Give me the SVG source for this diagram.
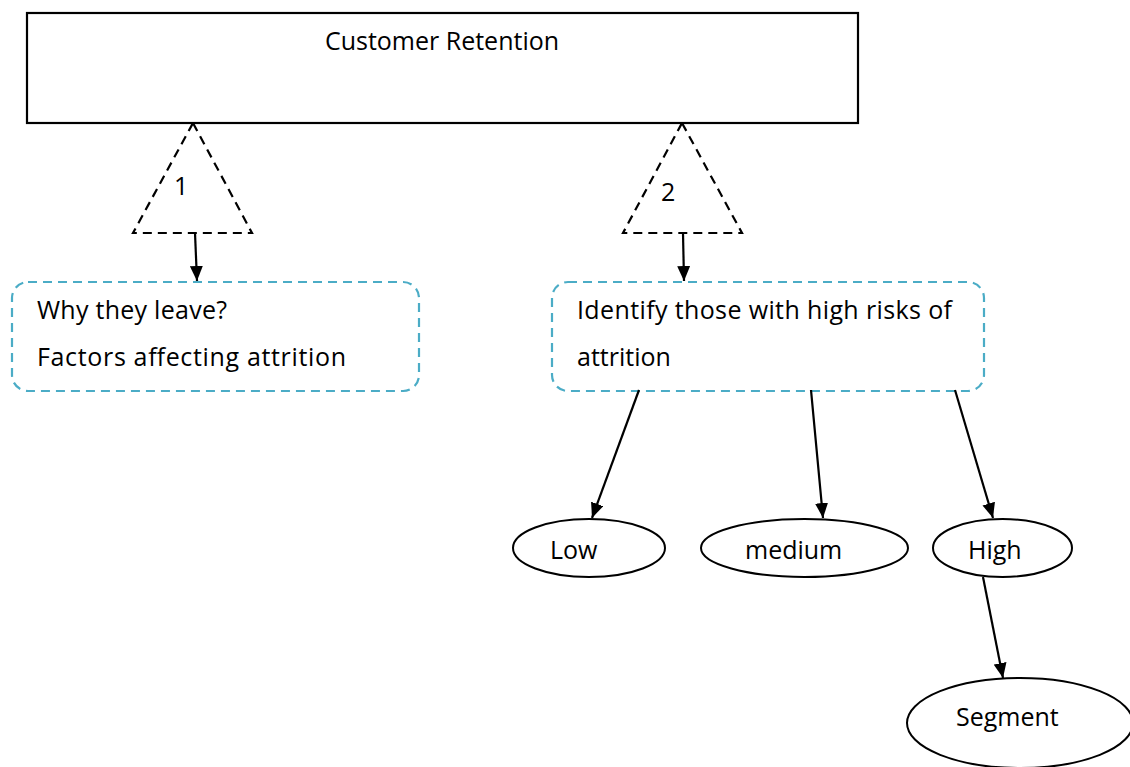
<svg xmlns="http://www.w3.org/2000/svg" width="1130" height="767" viewBox="0 0 1130 767">
<style>
text{font-family:"Open Sans","DejaVu Sans",sans-serif;font-size:25px;fill:#000}
.box{fill:#fff;stroke:#000;stroke-width:2.2}
.tri{fill:none;stroke:#000;stroke-width:2.2;stroke-dasharray:9 6}
.rbox{fill:#fff;stroke:#4BACC6;stroke-width:2.2;stroke-dasharray:9 6}
.ell{fill:#fff;stroke:#000;stroke-width:2}
.con{stroke:#000;stroke-width:2.2;fill:none;marker-end:url(#arr)}
</style>
<defs>
<marker id="arr" viewBox="0 0 15 13" refX="15" refY="6.5" markerWidth="15" markerHeight="13" markerUnits="userSpaceOnUse" orient="auto">
<path d="M0,0 L15,6.5 L0,13 z" fill="#000"/>
</marker>
</defs>
<rect width="1130" height="767" fill="#fff"/>
<g id="retention">
<rect class="box" x="27" y="13" width="831" height="110"/>
<text x="442" y="50" text-anchor="middle">Customer Retention</text>
</g>
<g id="tri1">
<path class="tri" d="M193,123 L252,233 L133,233 Z"/>
<text x="174" y="195">1</text>
</g>
<g id="tri2">
<path class="tri" d="M682,123 L742,233 L623,233 Z"/>
<text x="661" y="201">2</text>
</g>
<g id="why">
<rect class="rbox" x="12" y="282" width="407" height="109" rx="16"/>
<text x="37" y="319" textLength="190" lengthAdjust="spacing">Why they leave?</text>
<text x="37" y="366" textLength="309" lengthAdjust="spacing">Factors affecting attrition</text>
</g>
<g id="identify">
<rect class="rbox" x="552" y="282" width="432" height="109" rx="16"/>
<text x="577" y="319" textLength="375" lengthAdjust="spacing">Identify those with high risks of</text>
<text x="577" y="366">attrition</text>
</g>
<g id="low">
<ellipse class="ell" cx="589" cy="548" rx="76" ry="29"/>
<text x="550" y="559">Low</text>
</g>
<g id="medium">
<ellipse class="ell" cx="804.5" cy="548" rx="103.5" ry="29"/>
<text x="745" y="559">medium</text>
</g>
<g id="high">
<ellipse class="ell" cx="1002.5" cy="548" rx="69.5" ry="29"/>
<text x="968" y="559">High</text>
</g>
<g id="segment">
<ellipse class="ell" cx="1020" cy="723" rx="113" ry="45"/>
<text x="956" y="726">Segment</text>
</g>
<g id="connectors">
<line class="con" x1="195" y1="233" x2="197" y2="281"/>
<line class="con" x1="683" y1="233" x2="684" y2="281"/>
<line class="con" x1="639" y1="390" x2="592" y2="518"/>
<line class="con" x1="811" y1="390" x2="823" y2="518"/>
<line class="con" x1="955" y1="390" x2="993" y2="518"/>
<line class="con" x1="983" y1="577" x2="1003" y2="678"/>
</g>
</svg>
